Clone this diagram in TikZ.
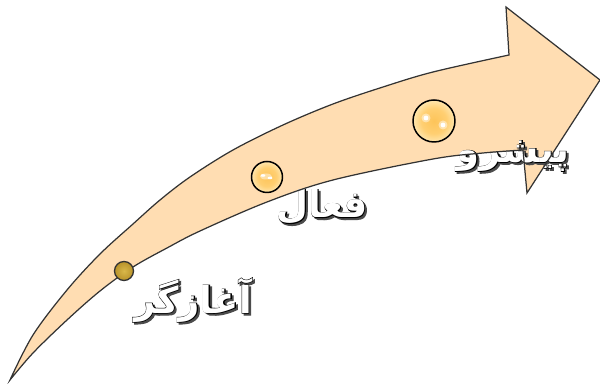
\documentclass[tikz,border=0pt]{standalone}
\usepackage{fontspec}
\newfontfamily\arabicfont[Script=Arabic]{DejaVu Sans}
\newfontfamily\arabicoutline[Script=Arabic, FakeBold=3]{DejaVu Sans}
\TeXXeTstate=1
\definecolor{peach}{HTML}{FFDDB2}
\definecolor{edgegray}{HTML}{333333}
\definecolor{ballc}{HTML}{FDC459}
\definecolor{ballm}{HTML}{FFCF72}
\definecolor{balle}{HTML}{FFE6AE}
\definecolor{oliveC}{HTML}{D9B84A}
\definecolor{oliveE}{HTML}{B8922A}
\pgfdeclareradialshading{ballshade}{\pgfpoint{0bp}{0bp}}{color(0bp)=(ballc); color(15bp)=(ballm); color(25bp)=(balle); color(50bp)=(balle)}
\pgfdeclareradialshading{oliveshade}{\pgfpoint{0bp}{0bp}}{color(0bp)=(oliveC); color(25bp)=(oliveE); color(50bp)=(oliveE)}
\tikzset{
  arrowline/.style={draw=edgegray, line width=0.7pt, line join=miter},
  lbl/.style={font=\arabicfont\bfseries\fontsize{21}{24}\selectfont, inner sep=0pt},
  lblout/.style={font=\arabicoutline\bfseries\fontsize{21}{24}\selectfont, inner sep=0pt},
  ball/.style={circle, shading=ballshade, draw=black, line width=0.85pt, inner sep=0pt},
  oliveball/.style={circle, shading=oliveshade, draw=edgegray, line width=0.75pt, inner sep=0pt, minimum size=0.38cm},
  glint/.style={fill=white, draw=none},
  softglint/.style={fill=white, fill opacity=0.45, draw=none},
}
\newcommand\fancylabel[3]{%
  \coordinate (#1-c) at (#2);
  \node[lblout, text=black!70] (#1-sh) at ([shift={(1.1pt,-1.1pt)}]#1-c) {\beginR #3\endR};
  \node[lblout, text=black] (#1-ol) at (#1-c) {\beginR #3\endR};
  \node[lbl, text=white] (#1) at (#1-c) {\beginR #3\endR};
}
\begin{document}
\begin{tikzpicture}[x=0.02cm, y=-0.02cm]
\useasboundingbox (0,0) rectangle (600,384);
% arrow fill
\fill[peach] plot[smooth, tension=0.55] coordinates {(10,380) (33,335) (67,290) (100,254) (133,224) (160,200) (190,177) (233,150) (283,125) (333,104) (383,87) (433,72) (509,55)}
  -- (506,7) -- (600,80) -- (527,193) -- (523,150)
  -- plot[smooth, tension=0.55] coordinates {(523,150) (483,153) (433,159) (333,180) (267,202) (200,231) (167,248) (133,267) (100,291) (67,320) (33,353) (10,380)} -- cycle;
% labels
\fancylabel{start}{193,300}{آغازگر}
\fancylabel{active}{322,207}{فعال}
\fancylabel{lead}{513,156}{پیشرو}
% arrow outline
\draw[arrowline] plot[smooth, tension=0.55] coordinates {(10,380) (33,335) (67,290) (100,254) (133,224) (160,200) (190,177) (233,150) (283,125) (333,104) (383,87) (433,72) (509,55)}
  -- (506,7) -- (600,80) -- (527,193) -- (523,150)
  -- plot[smooth, tension=0.55] coordinates {(523,150) (483,153) (433,159) (333,180) (267,202) (200,231) (167,248) (133,267) (100,291) (67,320) (33,353) (10,380)} -- cycle;
% circles
\node[oliveball] (c1) at (124,271) {};
\node[ball, minimum size=0.62cm] (c2) at (267,177) {};
\node[ball, minimum size=0.84cm] (c3) at (434,121) {};
% glints
\fill[softglint] (426,118) circle[radius=4.5];
\fill[softglint] (443,125) circle[radius=4.5];
\fill[glint] (426,118) circle[radius=2.4];
\fill[glint] (443,125) circle[radius=2.4];
\fill[softglint] (266,176.5) ellipse[x radius=6, y radius=3];
\fill[glint] (263,175.5) ellipse[x radius=2.4, y radius=1.3];
\fill[glint] (270,178) ellipse[x radius=2.4, y radius=1.3];
\end{tikzpicture}
\end{document}
